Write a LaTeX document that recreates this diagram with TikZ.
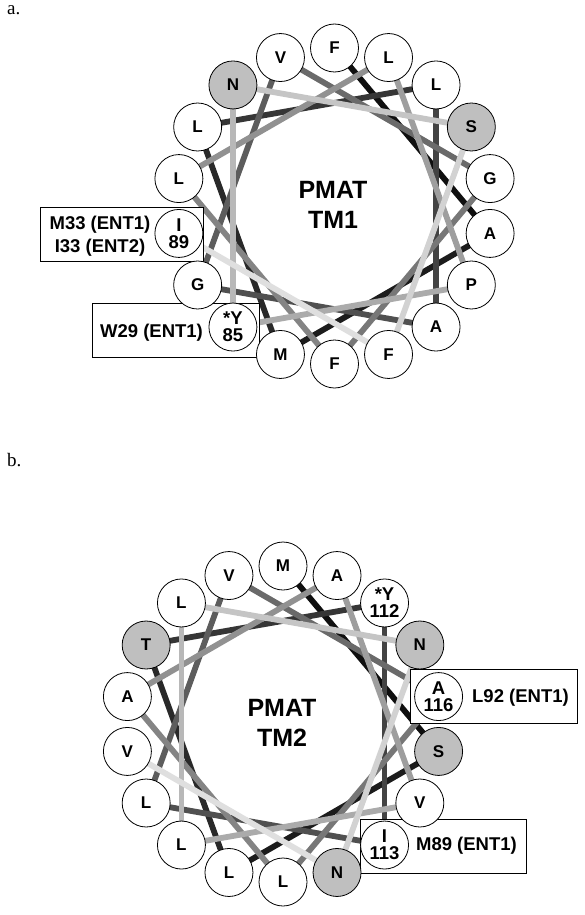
\documentclass[tikz,border=0pt]{standalone}
\usepackage{fontspec}
\setmainfont{Liberation Sans}
\newfontfamily\serifface{Liberation Serif}
\usetikzlibrary{calc}
\pgfdeclarelayer{lines}
\pgfdeclarelayer{boxes}
\pgfsetlayers{lines,boxes,main}
\begin{document}
\begin{tikzpicture}[x=1pt,y=-1pt,
  res/.style={circle,draw=black,line width=0.8pt,fill=white,minimum size=48pt,inner sep=0pt,
              font=\fontsize{17}{17}\selectfont\bfseries,align=center},
  shaded/.style={res,fill=black!25},
  numres/.style={res,font=\fontsize{18.5}{17}\selectfont\bfseries},
  link/.style={line width=5.8pt},
  tag/.style={draw=black,line width=0.8pt,fill=white},
  tagtext/.style={font=\fontsize{18.5}{23}\selectfont\bfseries,align=center},
  title/.style={font=\fontsize{25}{30}\selectfont\bfseries,align=center},
  panel/.style={font=\fontsize{19}{19}\serifface,anchor=base west,inner sep=0pt}]
\useasboundingbox (0,0) rectangle (585,915);

% panel labels
\node[panel] (pa) at (7,15) {a.};
\node[panel] (pb) at (7,466) {b.};

% ---------------- wheel a ----------------
\coordinate (ca) at (334.5,206);
\foreach \k/\t/\s in {0/F/res,1/L/res,2/L/res,3/S/shaded,4/G/res,5/A/res,6/P/res,
  7/A/res,8/F/res,9/F/res,10/M/res,11/{*Y\\85}/numres,12/G/res,13/{I\\89}/numres,
  14/L/res,15/L/res,16/N/shaded,17/V/res}{
  \node[\s] (a\k) at ($(ca)+({-90+20*\k}:158)$) {\t};
}
\node[title] (ta) at (333,204.5) {PMAT\\TM1};

% ---------------- wheel b ----------------
\coordinate (cb) at (283,724);
\foreach \k/\t/\s in {0/M/res,1/A/res,2/{*Y\\112}/numres,3/N/shaded,4/{A\\116}/numres,
  5/S/shaded,6/V/res,7/{I\\113}/numres,8/N/shaded,9/L/res,10/L/res,11/L/res,
  12/L/res,13/V/res,14/A/res,15/T/shaded,16/L/res,17/V/res}{
  \node[\s] (b\k) at ($(cb)+({-90+20*\k}:158)$) {\t};
}
\node[title] (tb) at (282,722.5) {PMAT\\TM2};

% helix connectors (residue i -> i+1, 100 degrees apart), dark to light
\begin{pgfonlayer}{lines}
\foreach \i in {0,...,16}{
  \pgfmathtruncatemacro\p{mod(5*\i,18)}
  \pgfmathtruncatemacro\q{mod(5*\i+5,18)}
  \pgfmathsetmacro\g{94-5.1*\i}
  \draw[link,draw=black!\g] (a\p.center) -- (a\q.center);
  \draw[link,draw=black!\g] (b\p.center) -- (b\q.center);
}
\end{pgfonlayer}

% annotation boxes
\begin{pgfonlayer}{boxes}
\draw[tag] (40,207) rectangle (203,261);
\draw[tag] (92,303) rectangle (259,357);
\draw[tag] (410,669) rectangle (577,723);
\draw[tag] (360,819) rectangle (526,873);
\end{pgfonlayer}
\node[tagtext] (la1) at (100,236) {M33 (ENT1)\\I33 (ENT2)};
\node[tagtext] (la2) at (151.5,333) {W29 (ENT1)};
\node[tagtext] (lb1) at (520.5,698) {L92 (ENT1)};
\node[tagtext] (lb2) at (466.5,846) {M89 (ENT1)};
\end{tikzpicture}
\end{document}
